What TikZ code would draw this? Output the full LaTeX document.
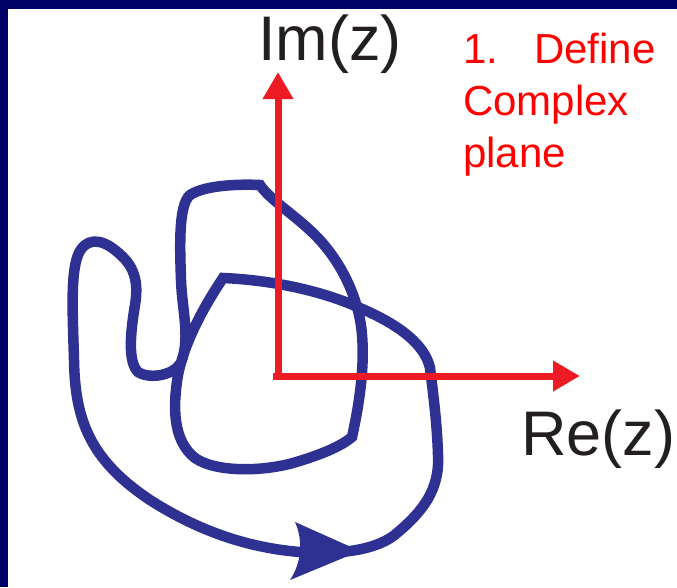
\documentclass[tikz,border=0pt]{standalone}
\usepackage{fontspec}
\setmainfont{Liberation Sans}
\usepackage{tikz}
\usetikzlibrary{arrows.meta, positioning}
\definecolor{FrameNavy}{RGB}{0,0,102}
\definecolor{AxisRed}{RGB}{237,28,36}
\definecolor{TitleRed}{RGB}{255,0,0}
\definecolor{ContourBlue}{RGB}{46,49,146}
\definecolor{LabelBlack}{RGB}{35,31,32}

\begin{document}
\begin{tikzpicture}[x=1pt, y=-1pt,
  axis/.style={AxisRed, line width=7pt, -{Triangle[length=27pt, width=29pt]}},
  contour/.style={ContourBlue, line width=10.5pt, line join=miter},
  axlbl/.style={LabelBlack, font=\fontsize{63}{70}\selectfont, inner sep=0pt, anchor=base},
  title/.style={TitleRed, font=\fontsize{42}{52}\selectfont, inner sep=0pt, align=left, anchor=base west},
]
\useasboundingbox (0,0) rectangle (677,587);
\fill[white] (0,0) rectangle (677,587);
\fill[FrameNavy] (0,0) rectangle (677,9);
\fill[FrameNavy] (0,0) rectangle (8,587);

\coordinate (vbot) at (278,380);
\coordinate (vtop) at (278,72);
\coordinate (hleft) at (273,376);
\coordinate (hright) at (580,376);

\draw[contour] (223,278) .. controls (205,305) and (185,340) .. (178,375)
  .. controls (173,405) and (172,440) .. (195,458)
  .. controls (215,472) and (260,472) .. (293,463)
  .. controls (320,455) and (340,447) .. (352,437)
  .. controls (358,410) and (365,370) .. (362,335)
  .. controls (360,305) and (345,265) .. (315,235)
  .. controls (295,215) and (270,200) .. (260,185)
  .. controls (240,184) and (205,185) .. (190,195)
  .. controls (178,205) and (180,250) .. (181,280)
  .. controls (182,310) and (190,335) .. (182,360)
  .. controls (177,375) and (150,380) .. (138,372)
  .. controls (128,362) and (130,335) .. (135,305)
  .. controls (140,275) and (130,262) .. (115,250)
  .. controls (100,238) and (85,238) .. (78,255)
  .. controls (70,275) and (73,320) .. (74,360)
  .. controls (75,420) and (90,460) .. (150,500)
  .. controls (200,532) and (250,548) .. (300,552)
  .. controls (340,555) and (378,550) .. (397,533)
  .. controls (422,512) and (440,490) .. (438,455)
  .. controls (437,420) and (432,385) .. (430,368)
  .. controls (425,345) and (400,325) .. (360,308)
  .. controls (320,290) and (270,280) .. (223,278) -- cycle;
\fill[ContourBlue] (360,551) -- (295,522) .. controls (303,540) and (302,562) .. (290,580) -- cycle;

\draw[axis] (vbot) -- (vtop);
\draw[axis] (hleft) -- (hright);

\node[axlbl] (imz) at (330,60) {Im(z)};
\node[axlbl] (rez) at (598,455) {Re(z)};
\node[title] (step1) at (463,167) {1.\hspace{36pt}Define\\Complex\\plane};
\end{tikzpicture}
\end{document}
